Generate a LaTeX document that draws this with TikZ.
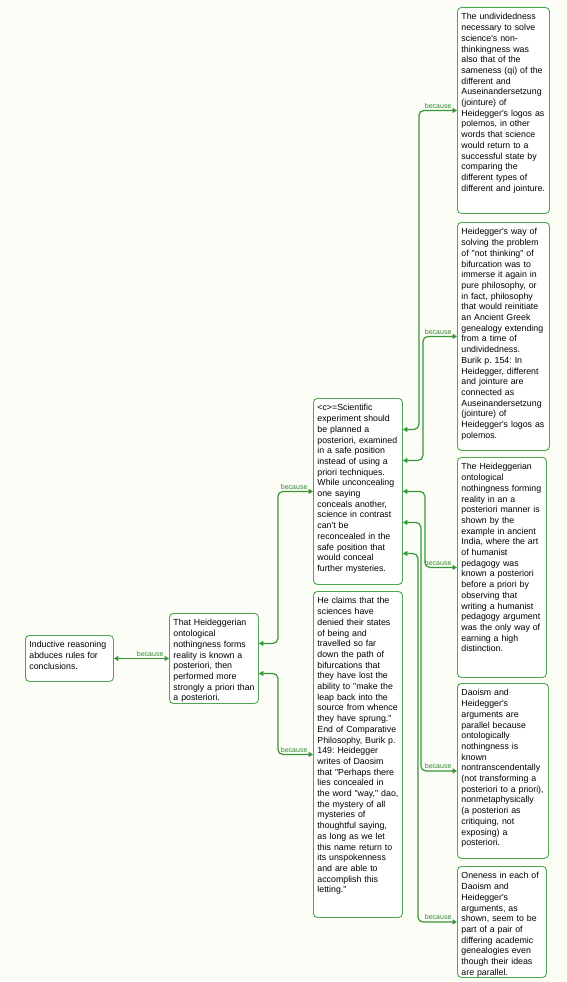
\documentclass[tikz,border=0pt]{standalone}
\usepackage{fontspec}
\setmainfont{Liberation Sans}[Ligatures=TeXOff]
\usetikzlibrary{arrows.meta}

\definecolor{boxgreen}{RGB}{80,165,80}
\definecolor{linkgreen}{RGB}{55,150,55}
\definecolor{labelgreen}{RGB}{45,135,45}
\definecolor{bgcream}{RGB}{253,253,247}

\tikzset{
    argbox/.style={draw=boxgreen, fill=white, line width=0.9pt, rounded corners=4pt,
        anchor=north west, align=left, inner xsep=4pt, inner ysep=4.5pt, text height=8pt,
        font=\fontsize{8.8}{10.7}\selectfont},
    link/.style={draw=linkgreen, line width=1.2pt, rounded corners=5pt,
        {Triangle[length=4.5pt,width=5pt]}-{Triangle[length=4.5pt,width=5pt]}},
    because/.style={anchor=south east, text=labelgreen, font=\fontsize{7}{8}\selectfont,
        inner sep=1pt, xshift=-4pt, yshift=0.5pt}
}

\begin{document}
\frenchspacing
\begin{tikzpicture}[x=1pt, y=-1pt]
    \fill[bgcream] (0,0) rectangle (567,982);
    \useasboundingbox (0,0) rectangle (567,982);

    % claim and first reason
    \node[argbox, text width=80pt, text depth=29pt] (indr) at (25,635)
        {Inductive reasoning\\abduces rules for\\conclusions.};
    \node[argbox, text width=81pt, text depth=73pt] (heid) at (169,613)
        {That Heideggerian\\ontological\\nothingness forms\\reality is known a\\posteriori, then\\performed more\\\mbox{strongly a priori than}\\a posteriori.};

    % second level
    \node[argbox, text width=81pt, text depth=169pt] (sci) at (313,398)
        {<c>=Scientific\\experiment should\\be planned a\\posteriori, examined\\in a safe position\\instead of using a\\priori techniques.\\While unconcealing\\one saying\\conceals another,\\science in contrast\\can't be\\reconcealed in the\\safe position that\\would conceal\\further mysteries.};
    \node[argbox, text width=81pt, text depth=309pt] (claims) at (313,591)
        {He claims that the\\sciences have\\denied their states\\of being and\\travelled so far\\down the path of\\bifurcations that\\they have lost the\\ability to "make the\\leap back into the\\source from whence\\they have sprung."\\End of Comparative\\Philosophy, Burik p.\\149: Heidegger\\writes of Daosim\\that "Perhaps there\\lies concealed in\\the word "way," dao,\\the mystery of all\\mysteries of\\thoughtful saying,\\as long as we let\\this name return to\\its unspokenness\\and are able to\\accomplish this\\letting."};

    % third level
    \node[argbox, text width=84pt, text depth=189pt] (undiv) at (457,7)
        {The undividedness\\necessary to solve\\science's non-\\thinkingness was\\also that of the\\sameness (qi) of the\\different and\\Auseinandersetzung\\(jointure) of\\Heidegger's logos as\\polemos, in other\\words that science\\would return to a\\successful state by\\comparing the\\different types of\\different and jointure.};
    \node[argbox, text width=84pt, text depth=211pt] (way) at (457,222)
        {Heidegger's way of\\solving the problem\\of "not thinking" of\\bifurcation was to\\immerse it again in\\pure philosophy, or\\in fact, philosophy\\that would reinitiate\\an Ancient Greek\\genealogy extending\\from a time of\\undividedness.\\Burik p. 154: In\\Heidegger, different\\and jointure are\\connected as\\Auseinandersetzung\\(jointure) of\\Heidegger's logos as\\polemos.};
    \node[argbox, text width=81pt, text depth=203pt] (india) at (457,457)
        {The Heideggerian\\ontological\\nothingness forming\\reality in an a\\posteriori manner is\\shown by the\\example in ancient\\India, where the art\\of humanist\\pedagogy was\\known a posteriori\\before a priori by\\observing that\\writing a humanist\\pedagogy argument\\was the only way of\\earning a high\\distinction.};
    \node[argbox, text width=83pt, text depth=158pt] (daoism) at (457,683)
        {Daoism and\\Heidegger's\\arguments are\\parallel because\\ontologically\\nothingness is\\known\\nontranscendentally\\(not transforming a\\posteriori to a priori),\\nonmetaphysically\\(a posteriori as\\critiquing, not\\exposing) a\\posteriori.};
    \node[argbox, text width=81pt, text depth=94pt] (oneness) at (457,866)
        {Oneness in each of\\Daoism and\\Heidegger's\\arguments, as\\shown, seem to be\\part of a pair of\\differing academic\\genealogies even\\though their ideas\\are parallel.};

    % links
    \draw[link] (indr.east) -- (heid.west) node[because] {because};
    \draw[link] ([yshift=15pt]heid.east) -- ++(19,0) |- (sci.west) node[because] {because};
    \draw[link] ([yshift=-15pt]heid.east) -- ++(19,0) |- (claims.west) node[because] {because};

    \draw[link] ([yshift=62pt]sci.east) -- ++(16,0) |- (undiv.west) node[because] {because};
    \draw[link] ([yshift=31pt]sci.east) -- ++(20,0) |- (way.west) node[because] {because};
    \draw[link] (sci.east) -- ++(22,0) |- (india.west) node[because] {because};
    \draw[link] ([yshift=-31pt]sci.east) -- ++(18,0) |- (daoism.west) node[because] {because};
    \draw[link] ([yshift=-62pt]sci.east) -- ++(15,0) |- (oneness.west) node[because] {because};
\end{tikzpicture}
\end{document}
